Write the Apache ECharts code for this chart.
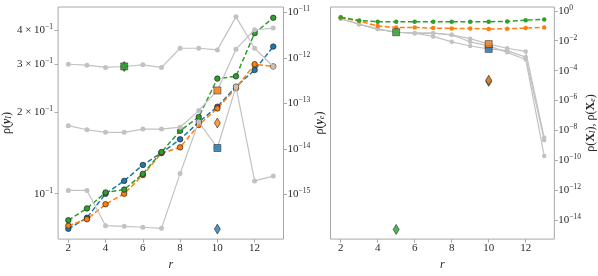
<!DOCTYPE html>
<html><head><meta charset="utf-8">
<script src="https://cdn.jsdelivr.net/npm/echarts@6/dist/echarts.min.js"></script>
<style>html,body{margin:0;padding:0;background:#fff}#c{width:598px;height:276px}</style>
</head><body><div id="c"></div>
<script>
const r = [2,3,4,5,6,7,8,9,10,11,12,13];
const xTicks = [2,4,6,8,10,12];
// Left panel: rho(y_I)
const yI_blue   = [0.0743,0.0816,0.100,0.1115,0.1276,0.1414,0.1585,0.1834,0.2089,0.2477,0.2851,0.3477];
const yI_orange = [0.0763,0.0806,0.0915,0.100,0.1171,0.1411,0.1481,0.1790,0.2060,0.2443,0.2994,0.2939];
const yI_green  = [0.0799,0.0883,0.1011,0.1036,0.1183,0.1423,0.1704,0.1915,0.2651,0.2703,0.3895,0.4436];
const yI_gray1  = [0.2994,0.2970,0.2914,0.2938,0.2979,0.2914,0.3428,0.3428,0.3381,0.4472,0.3428,0.2938];
const yI_gray2  = [0.1780,0.1719,0.1682,0.1682,0.1729,0.1729,0.1757,0.2022,0.2398,0.3401,0.4010,0.4066];
const yI_gray3  = [0.1028,0.1028,0.0763,0.0759,0.0753,0.0746,0.1186,0.1839,0.1473,0.2477,0.1115,0.1161];
const sqL_r = [5,10,10];
const sqL_v = [0.294,0.2398,0.1473];
// Left panel: rho(y_e) diamonds
const dmL_r = [5,10,10];
const dmL_v = [6.49e-13,3.70e-14,1.72e-16];
// Right panel: rho(X_I), rho(X_e)
const X_green  = [0.372,0.228,0.188,0.188,0.188,0.188,0.188,0.188,0.188,0.197,0.239,0.265];
const X_orange = [0.35,0.206,0.0984,0.0777,0.0777,0.070,0.067,0.067,0.0604,0.063,0.070,0.0777];
const X_gray1  = [0.294,0.1265,0.0604,0.0371,0.0320,0.0320,0.0249,0.0138,0.00594,0.00315,0.00194,3.27e-9];
const X_gray2  = [0.294,0.1265,0.0604,0.0371,0.0320,0.0194,0.00848,0.00443,0.00284,0.0022,0.000798,2.19e-9];
const X_gray3  = [0.294,0.1265,0.0604,0.0371,0.0320,0.0320,0.0249,0.00848,0.0045,0.00167,0.00056,1.97e-10];
const sqR_r = [5,10,10];
const sqR_v = [0.0371,0.00284,0.00594];
const dmR_r = [5,10,10];
const dmR_v = [2.38e-15,1.93e-5,2.30e-5];
const yLeftTicks = [0.1,0.2,0.3,0.4];
const yRightTicks = [1e-15,1e-14,1e-13,1e-12,1e-11];
const xRightTicks = [1e-14,1e-12,1e-10,1e-8,1e-6,1e-4,1e-2,1];

const BLUE='#1f77b4', ORANGE='#ff7f0e', GREEN='#2ca02c', GRAY='#c2c2c2', SPINE='#a8a8a8', TXT='#2a2a2a';
const FONT='Liberation Serif';
const rich = {
  b:{fontFamily:FONT,fontSize:11,color:TXT,lineHeight:14},
  s:{fontFamily:FONT,fontSize:7.5,color:TXT,verticalAlign:'top',lineHeight:9}
};
function logLabel(v){
  const e = Math.floor(Math.log10(v)+1e-9);
  const m = Math.round(v/Math.pow(10,e));
  const sup = (e<0?'−':'')+Math.abs(e);
  if (m===1) return '{b|10}{s|'+sup+'}';
  return '{b|'+m+' × 10}{s|'+sup+'}';
}
const pts = vals => r.map((x,i)=>[x,vals[i]]);
const pairs = (xs,vs) => xs.map((x,i)=>[x,vs[i]]);
const nameRich = {
  a:{fontFamily:FONT,fontSize:12,color:TXT},
  y:{fontFamily:FONT,fontSize:12,color:TXT,fontWeight:'bold',fontStyle:'italic'},
  X:{fontFamily:FONT,fontSize:12,color:TXT,fontWeight:'bold'},
  u:{fontFamily:FONT,fontSize:8,color:TXT,fontStyle:'italic',verticalAlign:'bottom',lineHeight:10}
};
function xAx(g){
  return {gridIndex:g,type:'value',min:1.45,max:13.55,
    axisLine:{show:false},splitLine:{show:false},
    axisTick:{show:true,length:3.5,lineStyle:{color:SPINE},customValues:xTicks},
    axisLabel:{margin:4,fontFamily:FONT,fontSize:11,color:TXT,customValues:xTicks},
    name:'r',nameLocation:'middle',nameGap:18,
    nameTextStyle:{fontFamily:FONT,fontSize:12,fontStyle:'italic',color:TXT}};
}
function yAx(g,pos,min,max,ticks,name,gap){
  return {gridIndex:g,type:'log',logBase:10,position:pos,min:min,max:max,
    axisLine:{show:false},splitLine:{show:false},minorTick:{show:false},
    axisTick:{show:true,length:3.5,lineStyle:{color:SPINE},customValues:ticks},
    axisLabel:{margin:pos==='left'?5:4,formatter:logLabel,rich:rich,customValues:ticks},
    name:name,nameLocation:'middle',nameGap:gap,nameRotate:90,
    nameTextStyle:{rich:nameRich}};
}
function dashed(xi,yi,vals,color,size,border){
  return {type:'line',xAxisIndex:xi,yAxisIndex:yi,data:pts(vals),symbol:'circle',symbolSize:size,
    itemStyle:{color:color,borderColor:border?'#222':color,borderWidth:border?0.7:0},
    lineStyle:{color:color,width:1.5,type:[5,2.5]},z:3,animation:false};
}
function grayLine(xi,yi,vals,size,z){
  return {type:'line',xAxisIndex:xi,yAxisIndex:yi,data:pts(vals),symbol:'circle',symbolSize:size,
    itemStyle:{color:GRAY,borderWidth:0},lineStyle:{color:GRAY,width:1.2},z:z,animation:false};
}
function marks(xi,yi,xs,vs,colors,symbol,size,z){
  return {type:'scatter',xAxisIndex:xi,yAxisIndex:yi,symbol:symbol,symbolSize:size,z:z,animation:false,
    data:pairs(xs,vs).map((p,i)=>({value:p,itemStyle:{color:colors[i],borderColor:'#222',borderWidth:0.7}}))};
}
const chart = echarts.init(document.getElementById('c'),null,{renderer:'canvas'});
chart.setOption({
  animation:false,
  grid:[{left:50,top:7,width:233.5,height:242,show:true,borderColor:SPINE,borderWidth:1,backgroundColor:'transparent'},
        {left:330.5,top:7,width:233.5,height:242,show:true,borderColor:SPINE,borderWidth:1,backgroundColor:'transparent'}],
  xAxis:[xAx(0),xAx(1)],
  yAxis:[
    yAx(0,'left',0.0681,0.4862,yLeftTicks,'{a|ρ(}{y|y}{u|I}{a|)}',36),
    yAx(0,'right',1.035e-16,1.318e-11,yRightTicks,'{a|ρ(}{y|y}{u|e}{a|)}',30),
    yAx(1,'right',5.37e-16,1.807,xRightTicks,'{a|ρ(}{X|X}{u|I}{a|), ρ(}{X|X}{u|e}{a|)}',27)
  ],
  series:[
    dashed(0,0,yI_blue,BLUE,5.5,true),
    dashed(0,0,yI_orange,ORANGE,5.5,true),
    dashed(0,0,yI_green,GREEN,5.5,true),
    grayLine(0,0,yI_gray1,5,4),
    grayLine(0,0,yI_gray2,5,4),
    grayLine(0,0,yI_gray3,5,4),
    marks(0,1,dmL_r,dmL_v,[GREEN,ORANGE,BLUE],'diamond',[6,10],5),
    marks(0,0,sqL_r,sqL_v,[GREEN,ORANGE,BLUE],'rect',7,6),
    grayLine(1,2,X_gray1,4.5,2),
    grayLine(1,2,X_gray2,4.5,2),
    grayLine(1,2,X_gray3,4.5,2),
    dashed(1,2,X_orange,ORANGE,4.5,false),
    dashed(1,2,X_green,GREEN,4.5,false),
    marks(1,2,sqR_r,sqR_v,[GREEN,BLUE,ORANGE],'rect',7,6),
    marks(1,2,dmR_r,dmR_v,[GREEN,BLUE,ORANGE],'diamond',[6,10],5)
  ]
});
</script></body></html>
